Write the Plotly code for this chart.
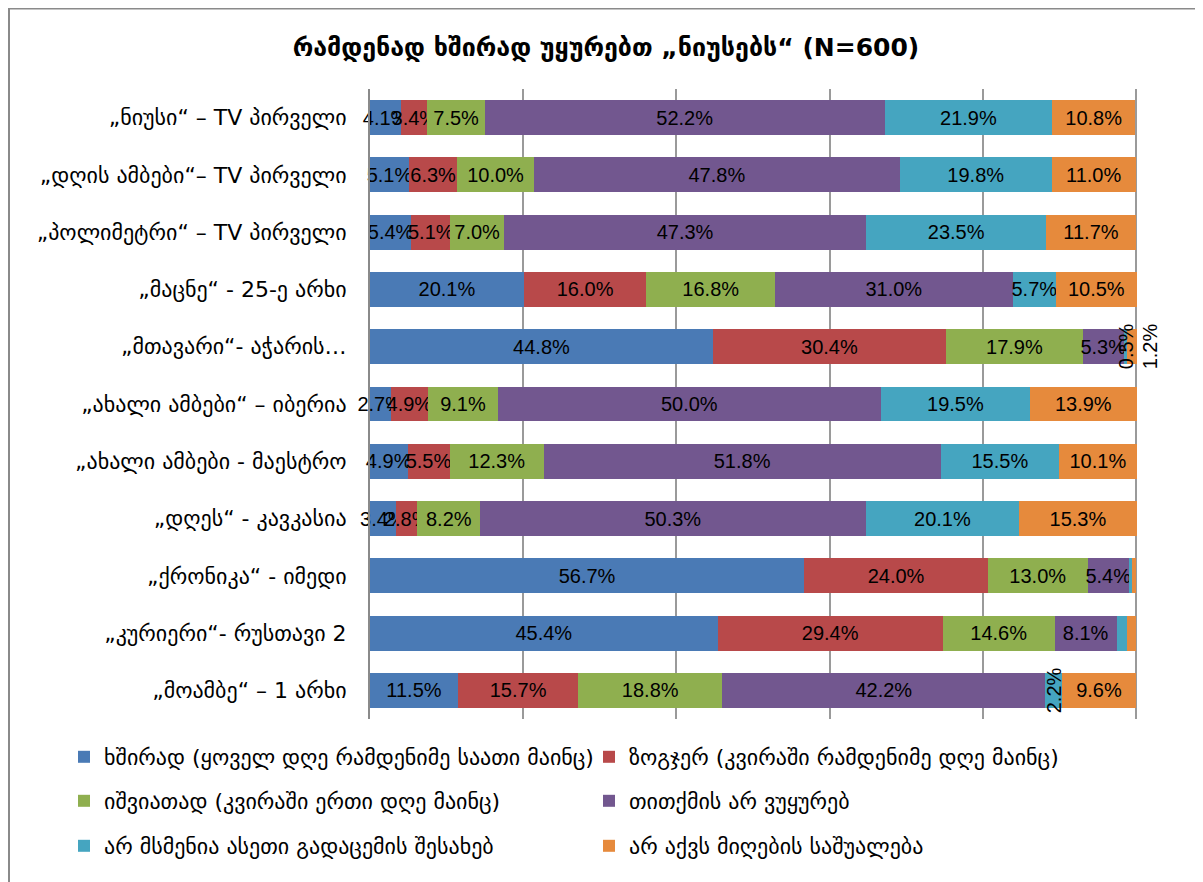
import plotly.graph_objects as go

categories = [
    "„ნიუსი“ – TV პირველი",
    "„დღის ამბები“– TV პირველი",
    "„პოლიმეტრი“ – TV პირველი",
    "„მაცნე“ - 25-ე არხი",
    "„მთავარი“- აჭარის…",
    "„ახალი ამბები“ – იბერია",
    "„ახალი ამბები - მაესტრო",
    "„დღეს“ - კავკასია",
    "„ქრონიკა“ - იმედი",
    "„კურიერი“- რუსთავი 2",
    "„მოამბე“ – 1 არხი",
]

series_names = [
    "ხშირად (ყოველ დღე რამდენიმე საათი მაინც)",
    "ზოგჯერ (კვირაში რამდენიმე დღე მაინც)",
    "იშვიათად (კვირაში ერთი დღე მაინც)",
    "თითქმის არ ვუყურებ",
    "არ მსმენია ასეთი გადაცემის შესახებ",
    "არ აქვს მიღების საშუალება",
]

often     = [4.1, 5.1, 5.4, 20.1, 44.8, 2.7, 4.9, 3.4, 56.7, 45.4, 11.5]
sometimes = [3.4, 6.3, 5.1, 16.0, 30.4, 4.9, 5.5, 2.8, 24.0, 29.4, 15.7]
rarely    = [7.5, 10.0, 7.0, 16.8, 17.9, 9.1, 12.3, 8.2, 13.0, 14.6, 18.8]
almost    = [52.2, 47.8, 47.3, 31.0, 5.3, 50.0, 51.8, 50.3, 5.4, 8.1, 42.2]
not_heard = [21.9, 19.8, 23.5, 5.7, 0.5, 19.5, 15.5, 20.1, 0.4, 1.4, 2.2]
no_access = [10.8, 11.0, 11.7, 10.5, 1.2, 13.9, 10.1, 15.3, 0.5, 1.1, 9.6]

series_values = [often, sometimes, rarely, almost, not_heard, no_access]
colors = ["#4A7AB5", "#B8494A", "#8FAF4F", "#72578F", "#45A5C0", "#E68A3C"]

# labels drawn rotated (series index, row index) and labels not shown
rotated_inside = [(4, 4), (4, 10)]
rotated_outside = [(5, 4)]
hidden = [(4, 8), (5, 8), (4, 9), (5, 9)]

# page is offset by the 8px body margin
OFF = 8
W, H = 1203 - OFF, 882 - OFF
L = 370 - OFF
T = 89 - OFF
B = H - (719 - OFF)
R = W - (1137 - OFF)
PW, PH = W - L - R, H - T - B

def px_x(page_x):
    return (page_x - OFF - L) / PW

def px_y(page_y):
    return 1 - (page_y - OFF - T) / PH

NUMFONT = dict(family="Liberation Sans, Arial, sans-serif", size=20, color="#000")

fig = go.Figure()
legend_ids = ["legend", "legend", "legend2", "legend2", "legend3", "legend3"]
for si, (name, vals, col) in enumerate(zip(series_names, series_values, colors)):
    texts = []
    for ri, v in enumerate(vals):
        key = (si, ri)
        if key in hidden or key in rotated_inside or key in rotated_outside:
            texts.append("")
        else:
            texts.append(f"{v:.1f}%")
    fig.add_trace(go.Bar(
        y=categories, x=vals, name=name, orientation="h",
        marker=dict(color=col, line=dict(width=0)),
        text=texts, texttemplate="%{text}", textposition="inside",
        insidetextanchor="middle", textangle=0, constraintext="none",
        cliponaxis=False, textfont=NUMFONT,
        legend=legend_ids[si], hoverinfo="x+name",
    ))

annotations = []
for si, vals in enumerate(series_values):
    for ri, v in enumerate(vals):
        start = sum(series_values[k][ri] for k in range(si))
        if (si, ri) in rotated_inside:
            annotations.append(dict(x=start + v / 2, y=categories[ri], xref="x", yref="y",
                                    text=f"{v:.1f}%", textangle=-90, showarrow=False,
                                    font=NUMFONT))
        if (si, ri) in rotated_outside:
            annotations.append(dict(x=start + v, y=categories[ri], xref="x", yref="y",
                                    text=f"{v:.1f}%", textangle=-90, showarrow=False,
                                    xanchor="left", xshift=0, font=NUMFONT))

legend_common = dict(orientation="h", xanchor="left", yanchor="middle", x=px_x(64),
                     entrywidth=480, entrywidthmode="pixels", bgcolor="rgba(0,0,0,0)",
                     font=dict(family="DejaVu Sans", size=22, color="#000"),
                     itemwidth=30, traceorder="normal")

fig.update_layout(
    width=W, height=H,
    margin=dict(l=L, r=R, t=T, b=B, autoexpand=False),
    paper_bgcolor="white", plot_bgcolor="white",
    barmode="stack", bargap=0.39,
    title=dict(text="<b>რამდენად ხშირად უყურებთ „ნიუსებს“ (N=600)</b>",
               x=(606 - OFF) / W, xanchor="center", y=1 - (47 - OFF) / H, yanchor="middle",
               font=dict(family="DejaVu Sans", size=25, color="#000")),
    xaxis=dict(range=[0, 100.15], tickvals=[0, 20, 40, 60, 80, 100], showgrid=True,
               gridcolor="#9A9A9A", gridwidth=1.5,
               showticklabels=False, zeroline=False, showline=False, fixedrange=True),
    yaxis=dict(autorange="reversed", showline=True, linecolor="#8A8A8A", linewidth=2,
               ticks="", ticklabelstandoff=17, showgrid=False,
               tickfont=dict(family="DejaVu Sans", size=22, color="#000")),
    legend=dict(legend_common, y=px_y(757)),
    legend2=dict(legend_common, y=px_y(801)),
    legend3=dict(legend_common, y=px_y(846)),
    annotations=annotations,
    shapes=[
        dict(type="line", xref="paper", yref="paper", x0=px_x(7), x1=px_x(1210),
             y0=px_y(8.5), y1=px_y(8.5), line=dict(color="#8A8A8A", width=2)),
        dict(type="line", xref="paper", yref="paper", x0=px_x(9), x1=px_x(9),
             y0=px_y(8), y1=px_y(890), line=dict(color="#8A8A8A", width=2)),
    ],
    showlegend=True,
)

fig.write_html("out.html")
